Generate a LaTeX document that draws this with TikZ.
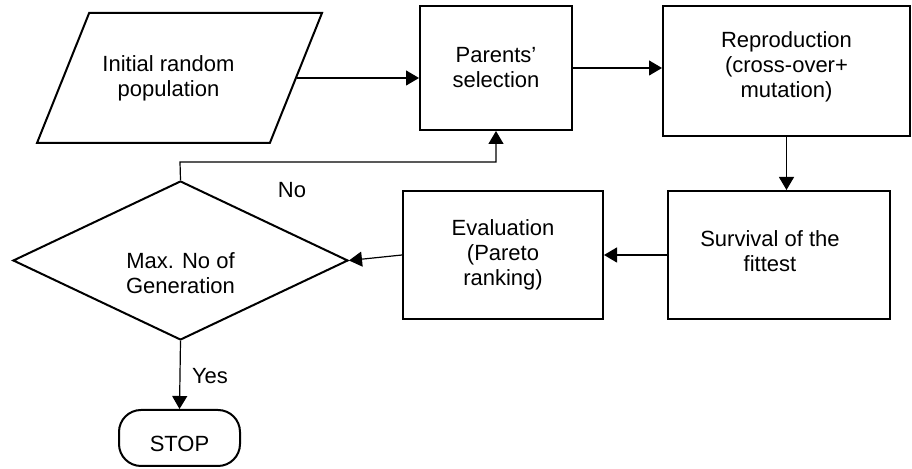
\documentclass[tikz,border=0pt]{standalone}
\usepackage{fontspec}
\setmainfont{Liberation Sans}
\usetikzlibrary{shapes.geometric,arrows.meta}
\begin{document}
\begin{tikzpicture}[x=0.5pt,y=-0.5pt,
  every node/.style={font=\fontsize{11}{12.5}\selectfont, align=center, inner sep=0pt},
  box/.style={draw, line width=1pt, rectangle},
  shp/.style={draw, line width=1pt, inner sep=1pt},
  conn/.style={line width=0.6pt, -{Triangle[length=6.5pt,width=7.5pt]}},
  plain/.style={line width=0.6pt}]
\useasboundingbox (0,0) rectangle (912,469);
\node[shp, trapezium, trapezium left angle=74.5, trapezium right angle=105.5,
      trapezium stretches=true, minimum width=142.5pt, minimum height=65pt,
      label={[xshift=-5.5pt]center:Initial random\\population}] (init) at (179.5,78) {\phantom{x}};
\node[box, minimum width=76pt, minimum height=62pt] (par) at (496,68) {Parents'\\selection};
\node[box, minimum width=123.5pt, minimum height=65pt,
      label={[yshift=2pt]center:Reproduction\\(cross-over+\\mutation)}] (rep) at (786.5,71) {};
\node[box, minimum width=111pt, minimum height=64pt,
      label={[xshift=-4.5pt, yshift=2pt]center:Survival of the\\fittest}] (surv) at (779,255) {};
\node[box, minimum width=100pt, minimum height=64pt] (eval) at (503,255) {Evaluation\\(Pareto\\ranking)};
\node[shp, diamond, minimum width=167.5pt, minimum height=79.5pt,
      label={[yshift=-6.5pt]center:Max. No of\\Generation}] (dia) at (180.5,260.5) {\phantom{x}};
\node[shp, rounded corners=11pt, minimum width=60.5pt, minimum height=28pt,
      label={[yshift=-3pt]center:STOP}] (stop) at (179.5,438) {};
\coordinate (turn) at (180,162);
\node (no) at (292,190) {No};
\node (yes) at (210,376) {Yes};
\draw[conn] (init.east) -- (init.east -| par.west);
\draw[conn] (par.east) -- (par.east -| rep.west);
\draw[conn] (rep.south) -- (rep.south |- surv.north);
\draw[conn] (surv.west) -- (eval.east);
\draw[conn] (eval.west) -- (dia.east);
\draw[conn] (dia.north) -- (turn) -| (par.south);
\draw[conn] (dia.south) -- (stop.north);
\end{tikzpicture}
\end{document}
